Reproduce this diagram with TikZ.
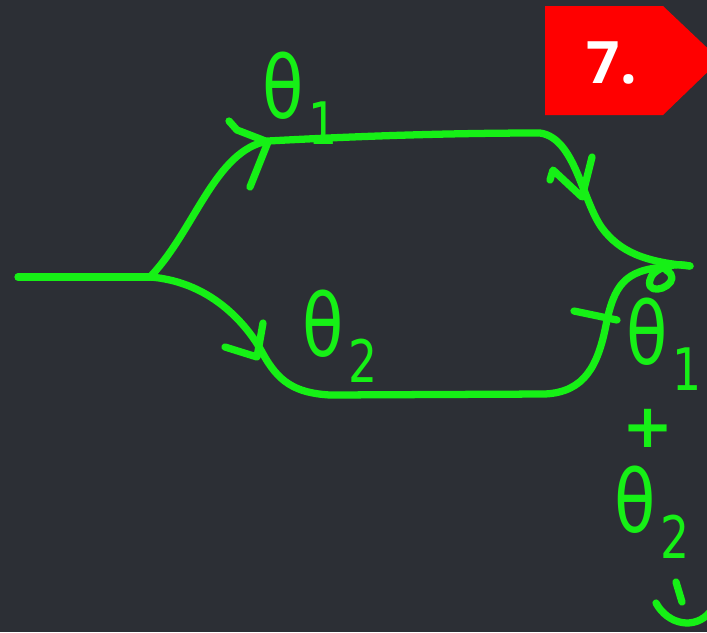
\documentclass[tikz,border=0pt]{standalone}
\usepackage{fontspec}
\newfontfamily\tagfont{Open Sans}
\newfontfamily\labfont{DejaVu Sans}
\definecolor{bg}{RGB}{44,47,53}
\definecolor{pen}{RGB}{22,240,22}
\definecolor{tagred}{RGB}{255,0,0}
\newcommand{\thsub}[1]{\scalebox{0.78}[1]{θ\kern0.06em\raisebox{-0.3em}{\fontsize{50}{50}\selectfont #1}}}
\tikzset{
  penline/.style={draw=pen, line width=6.2pt, line cap=round, line join=round},
  lab/.style={text=pen, inner sep=0pt, font=\labfont\fontsize{74}{74}\selectfont},
  tagtext/.style={text=white, inner sep=0pt, font=\tagfont\bfseries\fontsize{50}{50}\selectfont}
}
\begin{document}
\begin{tikzpicture}[x=0.03cm,y=-0.03cm]
\useasboundingbox (0,0) rectangle (707,632);
\fill[bg] (0,0) rectangle (707,632);
% red tag
\fill[tagred] (545,6) -- (663,6) -- (720,60) -- (663,115) -- (545,115) -- cycle;
\node[tagtext] (tag) at (612,63) {7.};
% coordinates
\coordinate (in) at (18,277);
\coordinate (j) at (150,277);
\coordinate (u1) at (268,141);
\coordinate (u2) at (540,133);
\coordinate (l1) at (330,395);
\coordinate (l2) at (545,394);
\coordinate (out) at (690,266);
% input
\draw[penline] (in) -- (j);
% upper branch
\draw[penline] (j) .. controls (195,230) and (215,150) .. (u1)
  .. controls (360,136) and (450,133) .. (u2)
  .. controls (575,138) and (582,200) .. (602,228)
  .. controls (620,252) and (645,262) .. (out);
% lower branch
\draw[penline] (j) .. controls (215,282) and (250,330) .. (262,352)
  .. controls (278,382) and (295,393) .. (l1) -- (l2)
  .. controls (585,392) and (598,365) .. (606,325)
  .. controls (614,285) and (625,270) .. (665,267);
% loop at output
\draw[penline] (out) .. controls (668,261) and (646,272) .. (650,286)
  .. controls (656,296) and (684,280) .. (666,270);
% arrows
\draw[penline] (229,121) -- (237,130) -- (268,142) -- (250,187);
\draw[penline] (550,180) -- (553,170) -- (582,197) -- (592,157);
\draw[penline] (225,347) -- (257,357) -- (263,323);
% tick on lower right
\draw[penline] (574,311) -- (617,320);
% labels
\node[lab] (t1) at (300,98) {\thsub{1}};
\node[lab] (t2) at (340,336) {\thsub{2}};
\node[lab] (t3) at (664,344) {\thsub{1}};
\node[lab, font=\labfont\bfseries\fontsize{52}{52}\selectfont] (pl) at (648,428) {+};
\node[lab] (t4) at (652,512) {\thsub{2}};
% smile
\draw[penline] (656,603) .. controls (668,625) and (695,630) .. (710,612);
\draw[penline] (676,582) -- (682,602);
\end{tikzpicture}
\end{document}
